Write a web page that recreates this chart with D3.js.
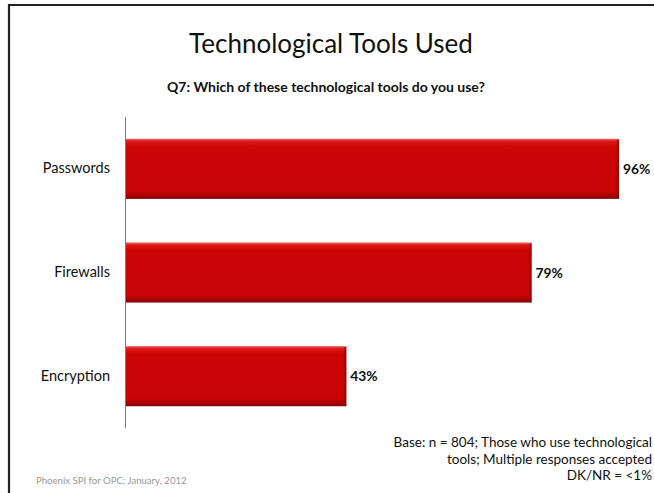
<!DOCTYPE html>
<html>
<head>
<meta charset="utf-8">
<script src="https://cdn.jsdelivr.net/npm/d3@7/dist/d3.min.js"></script>
<style>
  html, body { margin: 0; padding: 0; background: #fff; }
  svg { display: block; font-family: Lato, "Open Sans", sans-serif; }
</style>
</head>
<body>
<svg id="chart" width="654" height="493"></svg>
<script>
// Survey results: share of respondents using each tool
const categories = ["Passwords", "Firewalls", "Encryption"];
const values = [96, 79, 43];
const valueLabels = ["96%", "79%", "43%"];
const footnoteLines = [
  "Base: n = 804; Those who use technological",
  "tools; Multiple responses accepted",
  "DK/NR = <1%"
];

const svg = d3.select("#chart");
const W = 654, H = 493;

// slide frame (top and left edges)
svg.append("path")
  .attr("d", `M9,${H} L9,5 L${W},5`)
  .attr("fill", "none")
  .attr("stroke", "#222")
  .attr("stroke-width", 2.2);

// titles
svg.append("text")
  .attr("x", 331).attr("y", 53)
  .attr("text-anchor", "middle")
  .attr("font-size", 26)
  .attr("fill", "#111")
  .text("Technological Tools Used");

svg.append("text")
  .attr("x", 326).attr("y", 92)
  .attr("text-anchor", "middle")
  .attr("font-size", 14)
  .attr("font-weight", "bold")
  .attr("fill", "#111")
  .text("Q7: Which of these technological tools do you use?");

// scales
const x0 = 125;
const x = d3.scaleLinear().domain([0, 100]).range([x0, x0 + 514.6]);
const y = d3.scaleBand().domain(categories).range([117, 428]).paddingInner(0.42).paddingOuter(0.21);

// bar gradient: light top edge, deep red body, dark bottom edge
const defs = svg.append("defs");
const g = defs.append("linearGradient").attr("id", "barGrad")
  .attr("x1", 0).attr("y1", 0).attr("x2", 0).attr("y2", 1);
g.append("stop").attr("offset", "0%").attr("stop-color", "#f06a6a");
g.append("stop").attr("offset", "4%").attr("stop-color", "#e01a1a");
g.append("stop").attr("offset", "12%").attr("stop-color", "#cc0505");
g.append("stop").attr("offset", "88%").attr("stop-color", "#c80404");
g.append("stop").attr("offset", "96%").attr("stop-color", "#a00000");
g.append("stop").attr("offset", "100%").attr("stop-color", "#7a0a0a");

const gs = defs.append("linearGradient").attr("id", "sideGrad")
  .attr("x1", 0).attr("y1", 0).attr("x2", 1).attr("y2", 0);
gs.append("stop").attr("offset", "0%").attr("stop-color", "#8a0000").attr("stop-opacity", 0);
gs.append("stop").attr("offset", "100%").attr("stop-color", "#7a0000").attr("stop-opacity", 0.8);

const bars = svg.append("g");
bars.selectAll("rect.bar")
  .data(values)
  .join("rect")
  .attr("class", "bar")
  .attr("x", x(0) + 1)
  .attr("y", (d, i) => y(categories[i]))
  .attr("width", d => x(d) - x(0) - 1)
  .attr("height", y.bandwidth())
  .attr("fill", "url(#barGrad)");

bars.selectAll("rect.side")
  .data(values)
  .join("rect")
  .attr("class", "side")
  .attr("x", d => x(d) - 3)
  .attr("y", (d, i) => y(categories[i]) + 1)
  .attr("width", 3)
  .attr("height", y.bandwidth() - 1)
  .attr("fill", "url(#sideGrad)");

// value labels
svg.append("g").selectAll("text")
  .data(values)
  .join("text")
  .attr("x", d => x(d) + 4)
  .attr("y", (d, i) => y(categories[i]) + y.bandwidth() / 2 + 5)
  .attr("font-size", 13.8)
  .attr("font-weight", "bold")
  .attr("fill", "#111")
  .text((d, i) => valueLabels[i]);

// category axis
const axis = d3.axisLeft(y).tickSize(0).tickPadding(15);
const ax = svg.append("g").attr("transform", `translate(${x0},0)`).call(axis);
ax.select(".domain").attr("stroke", "#808080").attr("stroke-width", 1)
  .attr("d", "M0.5,117V428");
ax.selectAll("text")
  .attr("font-size", 14.5)
  .attr("font-family", "Lato, 'Open Sans', sans-serif")
  .attr("fill", "#111");

// footnote
svg.append("g").selectAll("text")
  .data(footnoteLines)
  .join("text")
  .attr("x", 652)
  .attr("y", (d, i) => 447 + i * 16.5)
  .attr("text-anchor", "end")
  .attr("font-size", 13.5)
  .attr("fill", "#111")
  .text(d => d);

// source line
svg.append("text")
  .attr("x", 36).attr("y", 484)
  .attr("font-size", 9.6)
  .attr("fill", "#999")
  .text("Phoenix SPI for OPC; January, 2012");
</script>
</body>
</html>
